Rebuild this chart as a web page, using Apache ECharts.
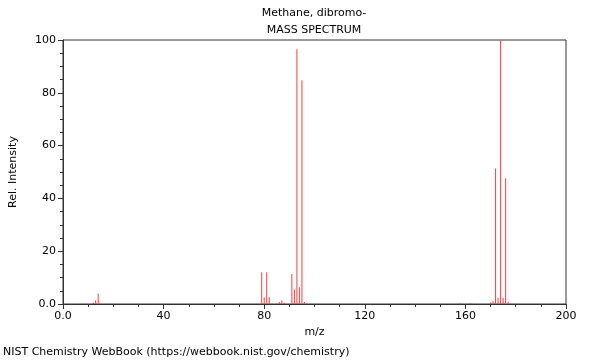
<!DOCTYPE html>
<html>
<head>
<meta charset="utf-8">
<script src="https://cdn.jsdelivr.net/npm/echarts@6/dist/echarts.min.js"></script>
<style>html,body{margin:0;padding:0;background:#fff}#c{width:600px;height:360px}</style>
</head>
<body>
<div id="c"></div>
<script>
var mz = [12, 13, 14, 79, 80, 81, 82, 86, 87, 88, 91, 92, 93, 94, 95, 96, 158, 162, 170, 171, 172, 173, 174, 175, 176, 177];
var intensity = [0.6, 1.4, 4.0, 12.0, 2.5, 12.0, 2.6, 0.8, 1.3, 0.5, 11.4, 5.5, 96.5, 6.3, 84.8, 0.8, 0.3, 0.3, 0.6, 1.0, 51.3, 2.4, 100, 2.4, 47.6, 0.8];
var titleLines = ["Methane, dibromo-", "MASS SPECTRUM"];
var xName = "m/z";
var yName = "Rel. Intensity";
var footer = "NIST Chemistry WebBook (https://webbook.nist.gov/chemistry)";

var data = mz.map(function (m, i) { return [m, intensity[i]]; });
var font = "DejaVu Sans";
var chart = echarts.init(document.getElementById('c'));
chart.setOption({
  animation: false,
  textStyle: { fontFamily: font },
  title: [
    { text: titleLines[0], left: 314, top: 8, padding: 0, textAlign: 'center', textStyle: { fontFamily: font, fontSize: 11, fontWeight: 'normal', color: '#000' } },
    { text: titleLines[1], left: 314, top: 25, padding: 0, textAlign: 'center', textStyle: { fontFamily: font, fontSize: 11, fontWeight: 'normal', color: '#000' } },
    { text: footer, left: 3, top: 347, padding: 0, textStyle: { fontFamily: font, fontSize: 11, fontWeight: 'normal', color: '#000' } }
  ],
  grid: { left: 62, right: 34, top: 40, bottom: 56, show: true, borderColor: '#333', borderWidth: 1, backgroundColor: 'transparent' },
  xAxis: {
    type: 'value', min: 0, max: 200, interval: 40,
    name: xName, nameLocation: 'middle', nameGap: 23,
    nameTextStyle: { fontFamily: font, fontSize: 11, color: '#000' },
    axisLine: { show: true, lineStyle: { color: '#333' } },
    axisTick: { show: true, length: 5, lineStyle: { color: '#333' } },
    minorTick: { show: true, splitNumber: 4, length: 3, lineStyle: { color: '#333' } },
    splitLine: { show: false },
    axisLabel: { fontFamily: font, fontSize: 11, color: '#000', margin: 7, formatter: function (v) { return v === 0 ? '0.0' : String(v); } }
  },
  yAxis: {
    type: 'value', min: 0, max: 100, interval: 20,
    name: yName, nameLocation: 'middle', nameGap: 44, nameRotate: 90,
    nameTextStyle: { fontFamily: font, fontSize: 11, color: '#000' },
    axisLine: { show: true, lineStyle: { color: '#333' } },
    axisTick: { show: true, length: 5, lineStyle: { color: '#333' } },
    minorTick: { show: true, splitNumber: 4, length: 3, lineStyle: { color: '#333' } },
    splitLine: { show: false },
    axisLabel: { fontFamily: font, fontSize: 11, color: '#000', margin: 7, formatter: function (v) { return v === 0 ? '0.0' : String(v); } }
  },
  series: [{
    type: 'bar', data: data, barWidth: 1,
    itemStyle: { color: '#ff3c3c' },
    silent: true
  }]
});
</script>
</body>
</html>
